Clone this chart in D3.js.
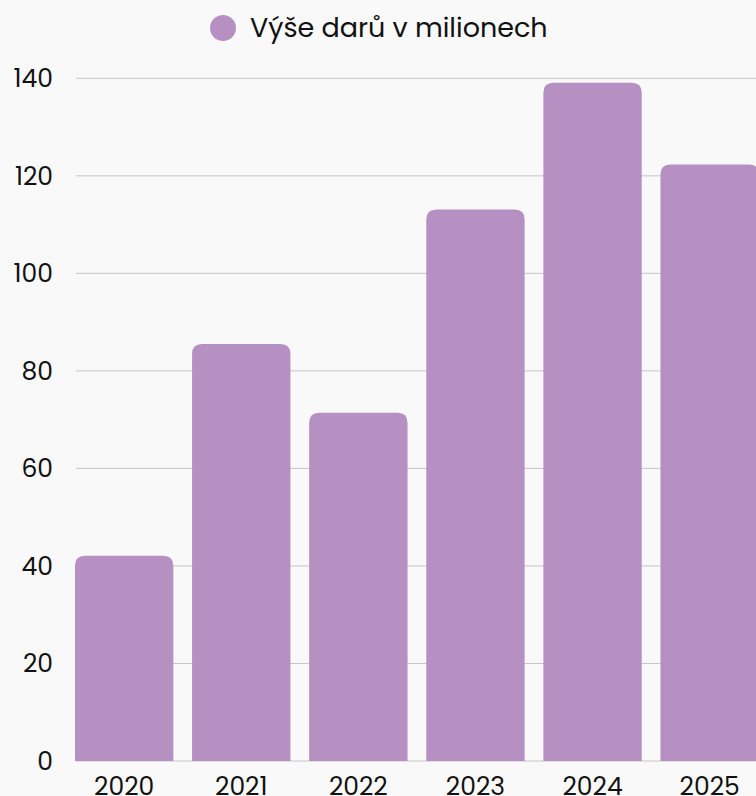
<!DOCTYPE html>
<html><head><meta charset="utf-8">
<script src="https://cdn.jsdelivr.net/npm/d3@7"></script>
<style>html,body{margin:0;padding:0;background:#f9f9f9;overflow:hidden}</style>
</head><body>
<svg id="c" width="756" height="796"></svg>
<script>
const categories = ["2020","2021","2022","2023","2024","2025"];
const values = [42.1, 85.5, 71.4, 113.1, 139.1, 122.3];
const yTicks = [0,20,40,60,80,100,120,140];
const seriesName = "Výše darů v milionech";

const svg = d3.select("#c");
const font = "Poppins, 'Open Sans', sans-serif";
const W = 756, H = 796;
svg.append("rect").attr("width", W).attr("height", H).attr("fill", "#f9f9f9");

const y = d3.scaleLinear().domain([0,140]).range([761, 78.3]);
const x = d3.scaleBand().domain(categories).range([65.6, 768.2]).paddingInner(0.16).paddingOuter(0.08);

// gridlines
svg.append("g").selectAll("line").data(yTicks).join("line")
  .attr("x1", 76).attr("x2", x.range()[1])
  .attr("y1", d => y(d)).attr("y2", d => y(d))
  .attr("stroke", "#c6c6c6").attr("stroke-width", 1);

// y tick labels
svg.append("g").selectAll("text").data(yTicks).join("text")
  .attr("x", 53).attr("y", d => y(d)).attr("dy", "0.36em")
  .attr("text-anchor", "end").attr("font-family", font).attr("font-size", 25)
  .attr("fill", "#111").text(d => d);

// bars with rounded top
const r = 10;
function barPath(x0, w, yTop, yBase) {
  const rr = Math.min(r, (yBase - yTop));
  return `M${x0},${yBase}V${yTop+rr}Q${x0},${yTop} ${x0+rr},${yTop}H${x0+w-rr}Q${x0+w},${yTop} ${x0+w},${yTop+rr}V${yBase}Z`;
}
svg.append("g").selectAll("path").data(categories).join("path")
  .attr("d", (c,i) => barPath(x(c), x.bandwidth(), y(values[i]), y(0)))
  .attr("fill", "#b690c3");

// x tick labels
svg.append("g").selectAll("text").data(categories).join("text")
  .attr("x", c => x(c) + x.bandwidth()/2).attr("y", 795)
  .attr("text-anchor", "middle").attr("font-family", font).attr("font-size", 25)
  .attr("fill", "#111").text(c => c);

// legend
const lg = svg.append("g");
lg.append("circle").attr("cx", 223).attr("cy", 28).attr("r", 13).attr("fill", "#b690c3");
lg.append("text").attr("x", 250).attr("y", 37).attr("font-family", font).attr("font-size", 27)
  .attr("fill", "#111").text(seriesName);
</script>
</body></html>
